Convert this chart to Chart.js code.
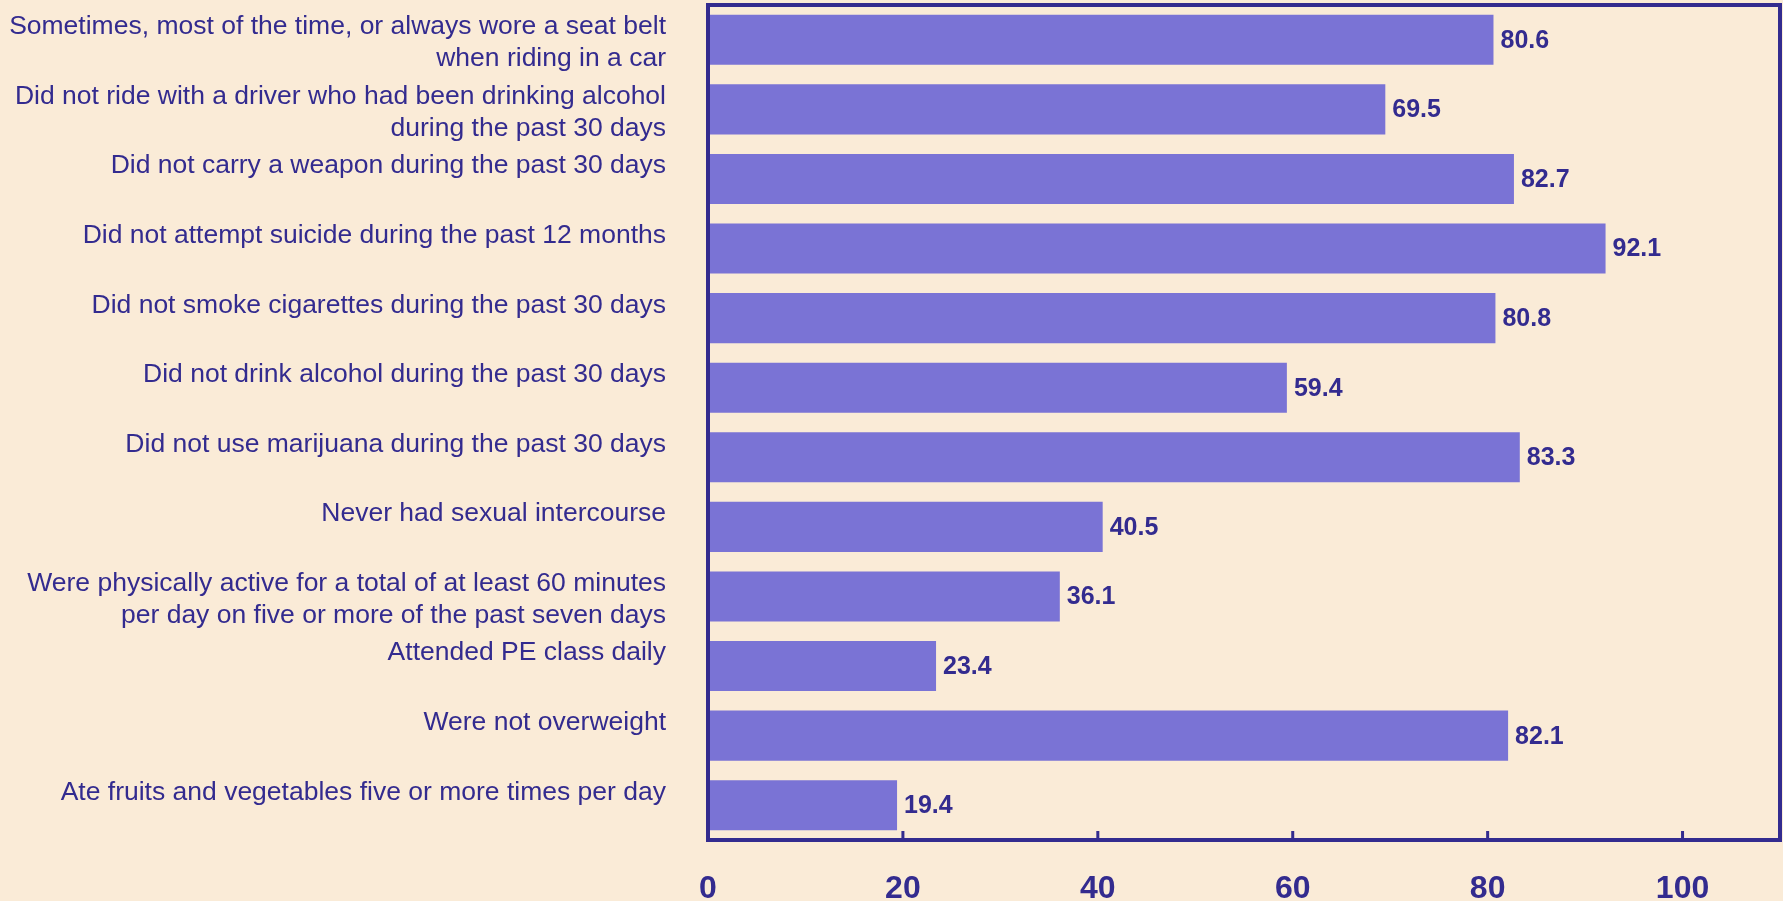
<!DOCTYPE html>
<html>
<head>
<meta charset="utf-8">
<title>Health behaviours</title>
<script src="https://cdn.jsdelivr.net/npm/chart.js@4/dist/chart.umd.min.js"></script>
<style>
  html, body { margin: 0; padding: 0; background: #faebd7; }
  #wrap { width: 1783px; height: 901px; }
</style>
</head>
<body>
<div id="wrap"><canvas id="chart"></canvas></div>
<script>
// single-line labels carry an empty second line so they sit high, like the original
const categories = [
    ['Sometimes, most of the time, or always wore a seat belt', 'when riding in a car'],
    ['Did not ride with a driver who had been drinking alcohol', 'during the past 30 days'],
    ['Did not carry a weapon during the past 30 days', ''],
    ['Did not attempt suicide during the past 12 months', ''],
    ['Did not smoke cigarettes during the past 30 days', ''],
    ['Did not drink alcohol during the past 30 days', ''],
    ['Did not use marijuana during the past 30 days', ''],
    ['Never had sexual intercourse', ''],
    ['Were physically active for a total of at least 60 minutes', 'per day on five or more of the past seven days'],
    ['Attended PE class daily', ''],
    ['Were not overweight', ''],
    ['Ate fruits and vegetables five or more times per day', '']
];
const values = [80.6, 69.5, 82.7, 92.1, 80.8, 59.4, 83.3, 40.5, 36.1, 23.4, 82.1, 19.4];
const xTicks = [0, 20, 40, 60, 80, 100];
const xMax = 110;

const NAVY = '#332b8f';
const BAR = '#7a73d5';
const FONT = '"Liberation Sans", Arial, sans-serif';

// frame, inward tick marks and the value at the end of each bar
const framePlugin = {
    id: 'frame',
    afterDatasetsDraw(chart) {
        const { ctx, chartArea: a, scales: { x } } = chart;
        ctx.save();
        ctx.strokeStyle = NAVY;
        ctx.lineWidth = 4;
        ctx.strokeRect(a.left, a.top, a.right - a.left, a.bottom - a.top);

        ctx.lineWidth = 3;
        x.ticks.forEach(t => {
            if (t.value === 0) return;
            const px = x.getPixelForValue(t.value);
            ctx.beginPath();
            ctx.moveTo(px, a.bottom);
            ctx.lineTo(px, a.bottom - 9);
            ctx.stroke();
        });

        ctx.fillStyle = NAVY;
        ctx.font = 'bold 25px ' + FONT;
        ctx.textAlign = 'left';
        ctx.textBaseline = 'middle';
        chart.getDatasetMeta(0).data.forEach((bar, i) => {
            ctx.fillText(values[i].toFixed(1), bar.x + 7, bar.y + 1);
        });
        ctx.restore();
    }
};

new Chart(document.getElementById('chart'), {
    type: 'bar',
    data: {
        labels: categories,
        datasets: [{
            data: values,
            backgroundColor: BAR,
            borderWidth: 0,
            barPercentage: 0.72,
            categoryPercentage: 1
        }]
    },
    options: {
        indexAxis: 'y',
        responsive: true,
        maintainAspectRatio: false,
        animation: false,
        layout: { padding: { top: 5, right: 3, left: 0, bottom: 0 } },
        plugins: {
            legend: { display: false },
            tooltip: { enabled: false }
        },
        scales: {
            y: {
                type: 'category',
                grid: { display: false, drawTicks: false },
                border: { display: false },
                afterFit: scale => {
                    scale.width = 708;
                    scale.paddingTop = 0;
                    scale.paddingBottom = 0;
                },
                ticks: {
                    autoSkip: false,
                    padding: 42,
                    labelOffset: 3,
                    color: NAVY,
                    font: { family: FONT, size: 26.5, lineHeight: 1.2 }
                }
            },
            x: {
                min: 0,
                max: xMax,
                grid: { display: false, drawTicks: false },
                border: { display: false },
                afterFit: scale => {
                    scale.height = 61;
                    scale.paddingLeft = 0;
                    scale.paddingRight = 0;
                },
                afterBuildTicks: scale => {
                    scale.ticks = xTicks.map(v => ({ value: v }));
                },
                ticks: {
                    padding: 30,
                    color: NAVY,
                    font: { family: FONT, size: 32, weight: 'bold' }
                }
            }
        }
    },
    plugins: [framePlugin]
});
</script>
</body>
</html>
